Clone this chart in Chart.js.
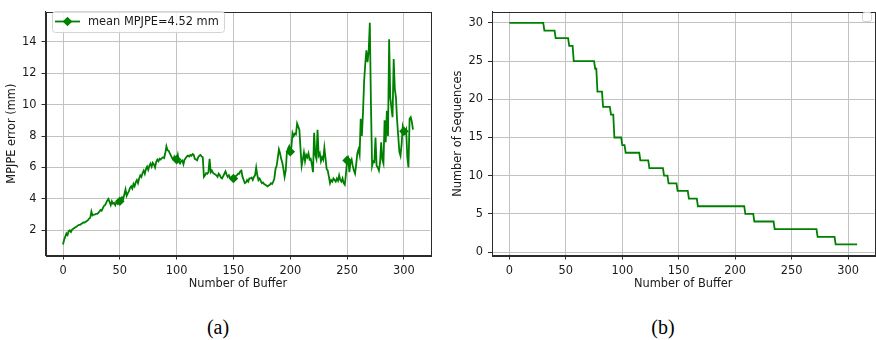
<!DOCTYPE html>
<html><head><meta charset="utf-8">
<script src="https://cdn.jsdelivr.net/npm/chart.js@4/dist/chart.umd.min.js"></script>
<style>
html,body{margin:0;padding:0;background:#fff;}
#wrap{position:relative;width:876px;height:340px;overflow:hidden;background:#fff;}
.cap{position:absolute;top:317px;line-height:21px;font-family:'Liberation Serif','Times New Roman',serif;font-size:20px;color:#000;transform:translateX(-50%);white-space:nowrap;}
</style></head><body>
<div id="wrap">
  <canvas id="c1" width="440" height="300" style="position:absolute;left:0;top:0;"></canvas>
  <canvas id="c2" width="436" height="300" style="position:absolute;left:440px;top:0;"></canvas>
  <div class="cap" style="left:218px;">(a)</div>
  <div class="cap" style="left:663px;">(b)</div>
</div>
<script>
// ---------- DATA ----------
const legendLabel = 'mean MPJPE=4.52 mm';
const xTicks = [0, 50, 100, 150, 200, 250, 300];
const yTicksA = [2, 4, 6, 8, 10, 12, 14];
const yTicksB = [0, 5, 10, 15, 20, 25, 30];
const markerIdx = [50, 100, 150, 200, 250, 300];

// MPJPE error (mm) per buffer index 0..308
const mpjpe = [
  1.1, 1.4, 1.6, 1.8, 1.7, 1.95, 2.0, 1.9, 2.05, 2.1,
  2.15, 2.2, 2.25, 2.3, 2.35, 2.35, 2.4, 2.45, 2.5, 2.5,
  2.55, 2.6, 2.65, 2.75, 2.8, 3.2, 2.95, 3.0, 3.0, 3.05,
  3.05, 3.1, 3.2, 3.3, 3.25, 3.4, 3.55, 3.6, 3.75, 3.9,
  4.0, 3.8, 3.6, 3.85, 3.7, 3.75, 3.6, 3.8, 3.7, 3.9,
  3.85, 3.95, 4.1, 4.0, 4.3, 4.6, 4.2, 4.35, 4.5, 4.7,
  4.8, 4.65, 4.95, 4.8, 5.05, 5.2, 5.0, 5.3, 5.5, 5.4,
  5.65, 5.8, 5.6, 5.9, 6.05, 5.85, 6.1, 6.25, 6.05, 6.3,
  6.2, 6.0, 6.35, 6.5, 6.4, 6.55, 6.5, 6.6, 6.65, 6.6,
  6.9, 7.35, 7.1, 7.05, 6.9, 6.75, 6.6, 6.5, 6.7, 6.55,
  6.5, 6.8, 6.35, 6.25, 6.4, 6.45, 6.2, 6.5, 6.6, 6.7,
  6.75, 6.7, 6.8, 6.75, 6.85, 6.8, 6.55, 6.5, 6.45, 6.65,
  6.75, 6.8, 6.7, 6.65, 5.4, 5.5, 5.65, 5.6, 5.7, 6.55,
  5.7, 5.8, 5.65, 5.6, 5.55, 5.5, 5.4, 5.6, 5.5, 5.35,
  5.3, 5.45, 5.6, 5.75, 5.55, 5.4, 5.5, 5.35, 5.25, 5.4,
  5.3, 5.35, 5.45, 5.5, 5.6, 5.6, 5.75, 5.8, 5.4, 5.2,
  5.0, 5.05, 5.2, 5.1, 5.3, 5.3, 5.35, 5.2, 5.4, 5.5,
  6.0, 5.5, 5.2, 5.3, 5.15, 5.0, 5.05, 4.95, 4.9, 4.85,
  4.8, 4.85, 4.9, 5.0, 4.95, 5.1, 5.3, 5.9, 6.1, 6.6,
  7.15, 6.9, 6.55, 6.3, 5.9, 5.4, 5.8, 6.95, 7.2, 7.35,
  7.0, 7.3, 8.2, 8.0, 8.15, 8.1, 8.8, 8.6, 8.4, 7.2,
  6.1, 6.5, 6.95, 6.4, 6.8, 6.65, 6.9, 6.5, 6.55, 6.2,
  5.7, 8.2, 6.8, 6.55, 8.4, 6.75, 6.9, 6.4, 6.65, 6.5,
  7.25, 6.6, 5.9, 5.8, 5.4, 5.0, 5.2, 5.1, 5.3, 5.2,
  5.1, 5.3, 5.15, 5.5, 5.2, 5.1, 5.3, 5.0, 4.9, 5.6,
  6.45, 6.6, 5.7, 6.3, 6.5, 6.1, 5.8, 5.6, 6.2, 6.9,
  7.15, 6.8, 9.1, 8.0, 9.5, 11.5, 12.6, 13.45, 12.7, 13.4,
  15.2, 10.0, 6.1, 6.4, 6.35, 7.9, 6.1, 6.0, 5.8, 6.3,
  7.6, 6.5, 6.25, 9.0, 7.6, 9.6, 8.0, 14.15, 10.45, 9.8,
  9.2, 12.9, 11.0, 10.45, 9.0, 8.0, 7.0, 6.75, 7.5, 8.6,
  8.3, 8.2, 8.4, 6.65, 6.0, 9.1, 9.2, 8.9, 8.4
];

// Number of sequences: corner points of the step curve
const seqX = [0, 30, 31, 40, 41, 52, 53, 56, 57, 75, 76, 77, 78, 82, 83, 89, 90, 92, 93, 99,
  100, 102, 103, 115, 116, 123, 124, 136, 137, 140, 141, 148, 149, 158, 159, 166, 167, 208,
  209, 216, 217, 234, 235, 272, 273, 288, 289, 308];
const seqY = [30, 30, 29, 29, 28, 28, 27, 27, 25, 25, 24, 24, 21, 21, 19, 19, 18, 18, 15, 15,
  14, 14, 13, 13, 12, 12, 11, 11, 10, 10, 9, 9, 8, 8, 7, 7, 6, 6,
  5, 5, 4, 4, 3, 3, 2, 2, 1, 1];

// ---------- STYLE ----------
const GREEN = '#008000';
const FONT = 'DejaVu Sans';
const FS = 11.4;
const TXT = '#1a1a1a';
const GRID = '#c2c2c2';
const SPINE = '#2b2b2b';
const LW = 1.8;
Chart.defaults.font.family = FONT;
Chart.defaults.font.size = FS;
Chart.defaults.color = TXT;

function setTicks(values) {
  return function (scale) { scale.ticks = values.map(v => ({ value: v })); };
}

function roundRect(ctx, x, y, w, h, r) {
  ctx.beginPath();
  ctx.moveTo(x + r, y);
  ctx.lineTo(x + w - r, y); ctx.quadraticCurveTo(x + w, y, x + w, y + r);
  ctx.lineTo(x + w, y + h - r); ctx.quadraticCurveTo(x + w, y + h, x + w - r, y + h);
  ctx.lineTo(x + r, y + h); ctx.quadraticCurveTo(x, y + h, x, y + h - r);
  ctx.lineTo(x, y + r); ctx.quadraticCurveTo(x, y, x + r, y);
  ctx.closePath();
}

const framePlugin = {
  id: 'frame',
  afterDraw(chart, args, opts) {
    const { ctx, chartArea: a } = chart;
    ctx.save();
    ctx.strokeStyle = SPINE; ctx.lineWidth = 1;
    ctx.strokeRect(Math.round(a.left) + 0.5, Math.round(a.top) + 0.5,
      Math.round(a.right) - Math.round(a.left), Math.round(a.bottom) - Math.round(a.top));
    ctx.restore();
    if (opts.draw) opts.draw(chart);
  }
};

function drawLegendA(chart) {
  const ctx = chart.ctx;
  const ds = chart.data.datasets[0];
  ctx.save();
  roundRect(ctx, 52.5, 11.5, 172, 21, 3);
  ctx.fillStyle = 'rgba(255,255,255,0.85)'; ctx.fill();
  ctx.strokeStyle = '#d4d4d4'; ctx.lineWidth = 1; ctx.stroke();
  const cy = 21.5, cx = 67.5, r = 4.8;
  ctx.strokeStyle = GREEN; ctx.lineWidth = LW;
  ctx.beginPath(); ctx.moveTo(55, cy); ctx.lineTo(80, cy); ctx.stroke();
  ctx.fillStyle = GREEN;
  ctx.beginPath(); ctx.moveTo(cx - r, cy); ctx.lineTo(cx, cy - r); ctx.lineTo(cx + r, cy); ctx.lineTo(cx, cy + r); ctx.closePath(); ctx.fill();
  ctx.fillStyle = TXT; ctx.font = FS + 'px "' + FONT + '"'; ctx.textBaseline = 'middle'; ctx.textAlign = 'left';
  ctx.fillText(ds.label, 88, cy + 0.5);
  ctx.restore();
}

function drawLegendB(chart) {
  const ctx = chart.ctx;
  ctx.save();
  roundRect(ctx, 862.5 - 440, 12.5, 9, 9, 2);
  ctx.fillStyle = 'rgba(255,255,255,0.85)'; ctx.fill();
  ctx.strokeStyle = '#d4d4d4'; ctx.lineWidth = 1; ctx.stroke();
  ctx.restore();
}

function axisCommon(ticksArr, min, max, title, titlePad, isY, axisSize) {
  return {
    type: 'linear', min: min, max: max,
    afterBuildTicks: setTicks(ticksArr),
    afterFit: function (s) { if (isY) s.width = axisSize; else s.height = axisSize; },
    grid: { color: GRID, lineWidth: 1, drawTicks: true, tickLength: 4, tickColor: SPINE, tickWidth: 1 },
    border: { display: true, color: SPINE, width: 1 },
    ticks: { padding: 5, color: TXT, autoSkip: false, maxRotation: 0, font: { size: FS, family: FONT },
      callback: v => String(v) },
    title: { display: true, text: title, color: TXT, font: { size: FS, family: FONT }, padding: titlePad }
  };
}

// ---------- CHART (a) ----------
new Chart(document.getElementById('c1'), {
  type: 'line',
  data: {
    datasets: [{
      label: legendLabel,
      data: mpjpe.map((v, i) => ({ x: i, y: v })),
      borderColor: GREEN, backgroundColor: GREEN, borderWidth: LW,
      tension: 0, fill: false,
      pointStyle: 'rectRot',
      pointRadius: c => markerIdx.includes(c.dataIndex) ? 4.8 : 0,
      pointHoverRadius: 0, pointBorderWidth: 0,
      pointBackgroundColor: GREEN, pointBorderColor: GREEN
    }]
  },
  options: {
    responsive: false, animation: false, devicePixelRatio: 1,
    layout: { padding: { left: 0, right: 9.5, top: 5.5, bottom: 0 } },
    plugins: { legend: { display: false }, tooltip: { enabled: false }, frame: { draw: drawLegendA } },
    scales: {
      x: axisCommon(xTicks, -15.4, 323.4, 'Number of Buffer', { top: 0, bottom: 9 }, false, 44.5),
      y: axisCommon(yTicksA, 0.4, 15.9, 'MPJPE error (mm)', { top: 5.5, bottom: 0 }, true, 45.5)
    }
  },
  plugins: [framePlugin]
});

// ---------- CHART (b) ----------
new Chart(document.getElementById('c2'), {
  type: 'line',
  data: {
    datasets: [{
      label: '',
      data: seqX.map((x, i) => ({ x: x, y: seqY[i] })),
      borderColor: GREEN, backgroundColor: GREEN, borderWidth: LW,
      tension: 0, fill: false, pointRadius: 0, pointHoverRadius: 0
    }]
  },
  options: {
    responsive: false, animation: false, devicePixelRatio: 1,
    layout: { padding: { left: 0, right: 1.5, top: 5.5, bottom: 0 } },
    plugins: { legend: { display: false }, tooltip: { enabled: false }, frame: { draw: drawLegendB } },
    scales: {
      x: axisCommon(xTicks, -15.4, 323.4, 'Number of Buffer', { top: 0, bottom: 9 }, false, 44.5),
      y: axisCommon(yTicksB, -0.45, 31.45, 'Number of Sequences', { top: 11.5, bottom: 0 }, true, 52)
    }
  },
  plugins: [framePlugin]
});
</script>
</body></html>
